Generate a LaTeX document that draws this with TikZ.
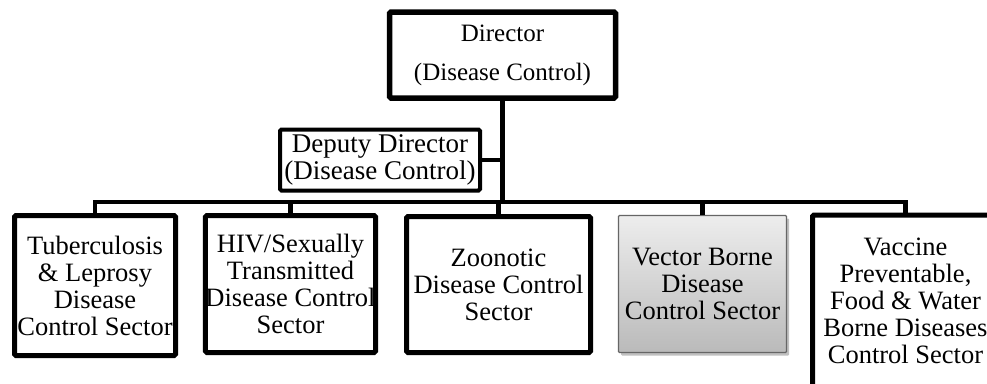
\documentclass[tikz,border=0pt]{standalone}
\usepackage{fontspec}
\setmainfont{Liberation Serif}
\usetikzlibrary{shadows}
\begin{document}
\begin{tikzpicture}[x=1pt,y=-1pt,
  unitbox/.style={draw=black, line width=5pt, fill=white, rounded corners=1.5pt,
    align=center, inner sep=0pt, font=\fontsize{26.5}{27}\selectfont},
  grayunit/.style={draw=black!60, line width=1.2pt, rounded corners=1pt,
    top color=black!7, bottom color=black!27,
    drop shadow={shadow xshift=2.5pt, shadow yshift=-3pt, opacity=0.35, fill=black!70},
    align=center, inner sep=0pt, font=\fontsize{26.5}{27}\selectfont},
  wire/.style={line width=4.5pt, line cap=butt, line join=miter}]
  \useasboundingbox[fill=white] (0,0) rectangle (987,383);

  % head of the division
  \node[unitbox, line width=5.5pt, minimum width=226pt, minimum height=86pt,
        font=\fontsize{25}{39}\selectfont] (dir) at (502.5,55)
        {Director\\(Disease Control)};
  % deputy
  \node[unitbox, line width=4pt, minimum width=200pt, minimum height=61pt,
        font=\fontsize{27}{27}\selectfont] (dep) at (380,160)
        {Deputy Director\\(Disease Control)};

  % sectors
  \node[unitbox, minimum width=161pt, minimum height=140pt] (tb) at (95,285.5)
        {Tuberculosis\\\& Leprosy\\Disease\\Control Sector};
  \node[unitbox, minimum width=170pt, minimum height=137pt] (hiv) at (290.5,284)
        {HIV/Sexually\\Transmitted\\Disease Control\\Sector};
  \node[unitbox, minimum width=184pt, minimum height=136pt] (zoo) at (498.5,284.5)
        {Zoonotic\\Disease Control\\Sector};
  \node[grayunit, minimum width=168pt, minimum height=137pt] (vec) at (702.5,284)
        {Vector Borne\\Disease\\Control Sector};
  \node[unitbox, minimum width=186pt, minimum height=172pt] (vac) at (905.5,301)
        {Vaccine\\Preventable,\\Food \& Water\\Borne Diseases\\Control Sector};

  % bus line joining the sectors
  \coordinate (bus) at (0,202);

  \draw[wire, line width=5.5pt] (dir.south) -- (dir.south |- bus);
  \draw[wire] (dep.east) -- (dep.east -| dir.south);
  \draw[wire] (tb.north) -- (tb.north |- bus) -- (vac.north |- bus) -- (vac.north);
  \draw[wire] (hiv.north) -- (hiv.north |- bus);
  \draw[wire] (zoo.north) -- (zoo.north |- bus);
  \draw[wire] (vec.north) -- (vec.north |- bus);
\end{tikzpicture}
\end{document}
